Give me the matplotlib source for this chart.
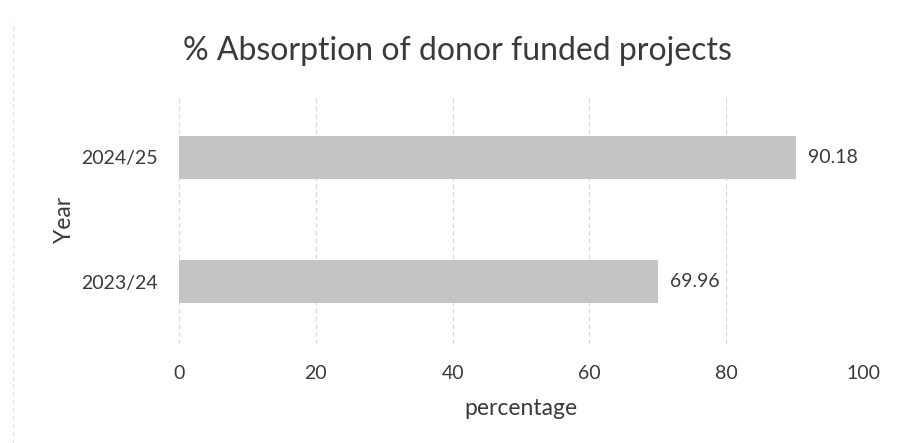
import matplotlib.pyplot as plt
from matplotlib.lines import Line2D

### DATA
years = ["2023/24", "2024/25"]
absorption = [69.96, 90.18]
###

plt.rcParams['font.family'] = ['Lato', 'DejaVu Sans']
text_col = '#3a3a3a'

fig = plt.figure(figsize=(8.97, 4.43), dpi=100)
ax = fig.add_axes([0.1996, 0.2235, 0.7625, 0.562])

bars = ax.barh(years, absorption, height=0.345, color='#c4c4c4', zorder=3)
for b, v in zip(bars, absorption):
	ax.text(v + 1.8, b.get_y() + b.get_height() / 2, f"{v:.2f}",
			va='center', ha='left', fontsize=14, color=text_col)

ax.set_xlim(0, 100)
ax.set_ylim(-0.5, 1.5)
ax.set_xticks(range(0, 101, 20))
ax.grid(axis='x', color='#d4d4d4', linestyle=(0, (4, 3)), linewidth=0.8, zorder=0)
for s in ax.spines.values():
	s.set_visible(False)
ax.tick_params(length=0, labelsize=14, colors=text_col)
ax.tick_params(axis='x', pad=15)
ax.tick_params(axis='y', pad=15)

ax.set_xlabel('percentage', fontsize=16.5, color=text_col, labelpad=12)
ax.set_ylabel('Year', fontsize=16.5, color=text_col, labelpad=5)
fig.text(0.51, 0.885, '% Absorption of donor funded projects',
		 ha='center', va='center', fontsize=23, color=text_col)

# faint chart border on the left edge
fig.add_artist(Line2D([0.014, 0.014], [0.0, 0.95], transform=fig.transFigure,
					  color='#e0e0e0', linestyle=(0, (4, 3)), linewidth=0.8))

fig.savefig('out.png', dpi=100)
